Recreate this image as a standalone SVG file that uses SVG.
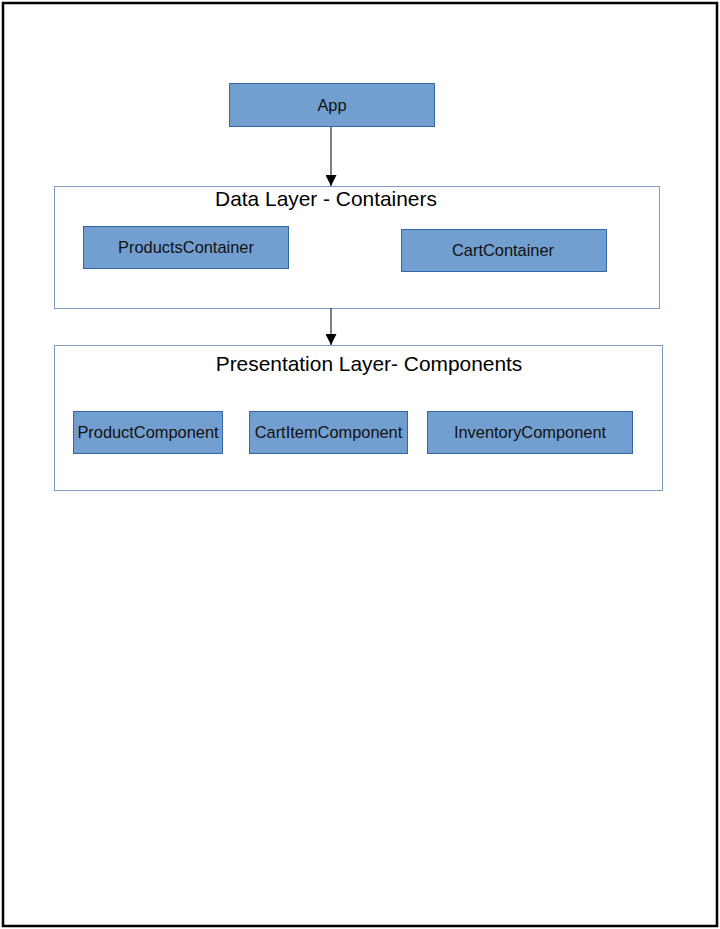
<svg xmlns="http://www.w3.org/2000/svg" width="720" height="929" viewBox="0 0 720 929">
  <style>
    .page { fill: #ffffff; stroke: #000000; stroke-width: 2.5; }
    .layer { fill: #ffffff; stroke: #7f9cc4; stroke-width: 1; }
    .box { fill: #729fcf; stroke: #3465a4; stroke-width: 1; }
    .label { font-family: "Liberation Sans", Arial, sans-serif; font-size: 16.4px; fill: #111111; text-anchor: middle; dominant-baseline: central; }
    .title { font-family: "Liberation Sans", Arial, sans-serif; font-size: 20.9px; fill: #000000; text-anchor: middle; }
    .edge { stroke: #000000; stroke-width: 1; fill: none; }
  </style>
  <defs>
    <marker id="arrow" viewBox="0 0 10 10" refX="10" refY="5" markerWidth="11" markerHeight="11" markerUnits="userSpaceOnUse" orient="auto">
      <path d="M0,0 L10,5 L0,10 Z" fill="#000000"/>
    </marker>
  </defs>

  <!-- page frame -->
  <rect class="page" x="3" y="3" width="714" height="923"/>

  <!-- layer containers -->
  <g id="data-layer">
    <rect class="layer" x="54.5" y="186.5" width="605" height="122"/>
    <text class="title" x="326" y="206">Data Layer - Containers</text>
  </g>
  <g id="presentation-layer">
    <rect class="layer" x="54.5" y="345.5" width="608" height="145"/>
    <text class="title" x="369" y="371">Presentation Layer- Components</text>
  </g>

  <!-- connectors -->
  <g id="connectors">
    <line class="edge" x1="331" y1="127" x2="331" y2="186" marker-end="url(#arrow)"/>
    <line class="edge" x1="331" y1="308" x2="331" y2="345" marker-end="url(#arrow)"/>
  </g>

  <!-- nodes -->
  <g id="app">
    <rect class="box" x="229.5" y="83.5" width="205" height="43"/>
    <text class="label" x="332" y="105">App</text>
  </g>
  <g id="products-container">
    <rect class="box" x="83.5" y="226.5" width="205" height="42"/>
    <text class="label" x="186" y="247">ProductsContainer</text>
  </g>
  <g id="cart-container">
    <rect class="box" x="401.5" y="229.5" width="205" height="42"/>
    <text class="label" x="503" y="250">CartContainer</text>
  </g>
  <g id="product-component">
    <rect class="box" x="73.5" y="411.5" width="149" height="42"/>
    <text class="label" x="148" y="432">ProductComponent</text>
  </g>
  <g id="cart-item-component">
    <rect class="box" x="249.5" y="411.5" width="158" height="42"/>
    <text class="label" x="328.5" y="432">CartItemComponent</text>
  </g>
  <g id="inventory-component">
    <rect class="box" x="427.5" y="411.5" width="205" height="42"/>
    <text class="label" x="530" y="432">InventoryComponent</text>
  </g>
</svg>
